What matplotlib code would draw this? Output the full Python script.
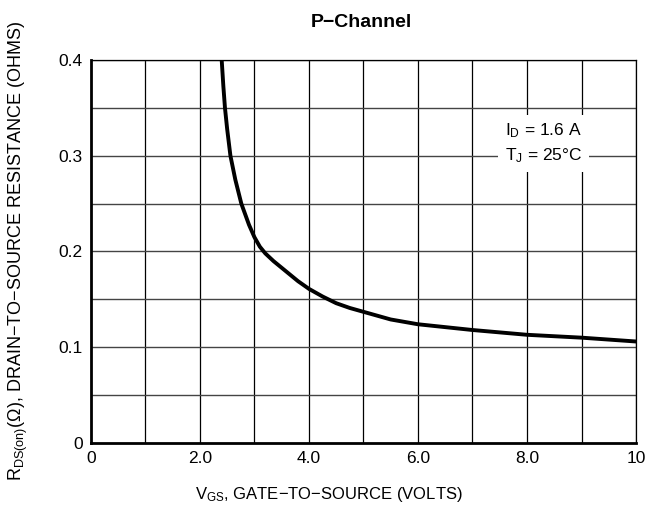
import matplotlib
matplotlib.use('Agg')
import matplotlib.pyplot as plt
import numpy as np

plt.rcParams['font.family'] = ['Liberation Sans', 'DejaVu Sans']
plt.rcParams['mathtext.fontset'] = 'custom'
plt.rcParams['mathtext.rm'] = 'Liberation Sans'
plt.rcParams['mathtext.it'] = 'Liberation Sans'

# curve
vgs = [2.4, 2.43, 2.46, 2.5, 2.56, 2.65, 2.76, 2.9, 3.0, 3.1, 3.2, 3.35, 3.5, 3.65,
       3.8, 4.0, 4.25, 4.5, 4.75, 5.0, 5.5, 6.0, 6.5, 7.0, 7.5, 8.0, 9.0, 10.0]
rds = [0.400, 0.373, 0.350, 0.328, 0.300, 0.275, 0.250, 0.228, 0.215, 0.205, 0.198,
       0.190, 0.183, 0.176, 0.169, 0.161, 0.153, 0.146, 0.141, 0.137, 0.129, 0.124,
       0.121, 0.118, 0.1155, 0.113, 0.110, 0.106]

x_ticks = [0, 2, 4, 6, 8, 10]
x_labels = ['0', '2.0', '4.0', '6.0', '8.0', '10']
y_ticks = [0, 0.1, 0.2, 0.3, 0.4]
y_labels = ['0', '0.1', '0.2', '0.3', '0.4']

fig = plt.figure(figsize=(6.49, 5.13), dpi=100)
ax = fig.add_axes([0.140, 0.1365, 0.840, 0.7465])

ax.set_xlim(0, 10)
ax.set_ylim(0, 0.4)

# grid
for xv in np.arange(1, 10.5, 1):
    ax.axvline(xv, color='black', lw=0.9, zorder=1)
for yv in np.arange(0.05, 0.401, 0.05):
    ax.axhline(yv, color='#444444', lw=1.0, zorder=1)

ax.plot(vgs, rds, color='black', lw=2.8, solid_capstyle='round', zorder=3)

ax.set_xticks(x_ticks)
ax.set_xticklabels(x_labels)
ax.set_yticks(y_ticks)
ax.set_yticklabels(y_labels)
ax.tick_params(length=0, labelsize=12.5, pad=6)

for s in ['left', 'bottom']:
    ax.spines[s].set_linewidth(2.0)
for s in ['top', 'right']:
    ax.spines[s].set_linewidth(0.9)

ax.text(7.6, 0.313, '$\\mathrm{I_D}$ = 1.6 A\n$\\mathrm{T_J}$ = 25°C', fontsize=12.5,
        ha='left', va='center', linespacing=1.45, zorder=4,
        bbox=dict(facecolor='white', edgecolor='none', pad=5))

fig.text(0.557, 0.957, 'P\u2212Channel', fontsize=14, fontweight='bold',
         ha='center', va='center')
fig.text(0.507, 0.037, '$\\mathrm{V_{GS}}$, GATE\u2212TO\u2212SOURCE (VOLTS)', fontsize=12,
         ha='center', va='center')
fig.text(0.028, 0.51, '$\\mathrm{R_{DS(on)}(\\Omega)}$, DRAIN\u2212TO\u2212SOURCE RESISTANCE (OHMS)',
         fontsize=13, ha='center', va='center', rotation=90)

fig.savefig('out.png', dpi=100)
